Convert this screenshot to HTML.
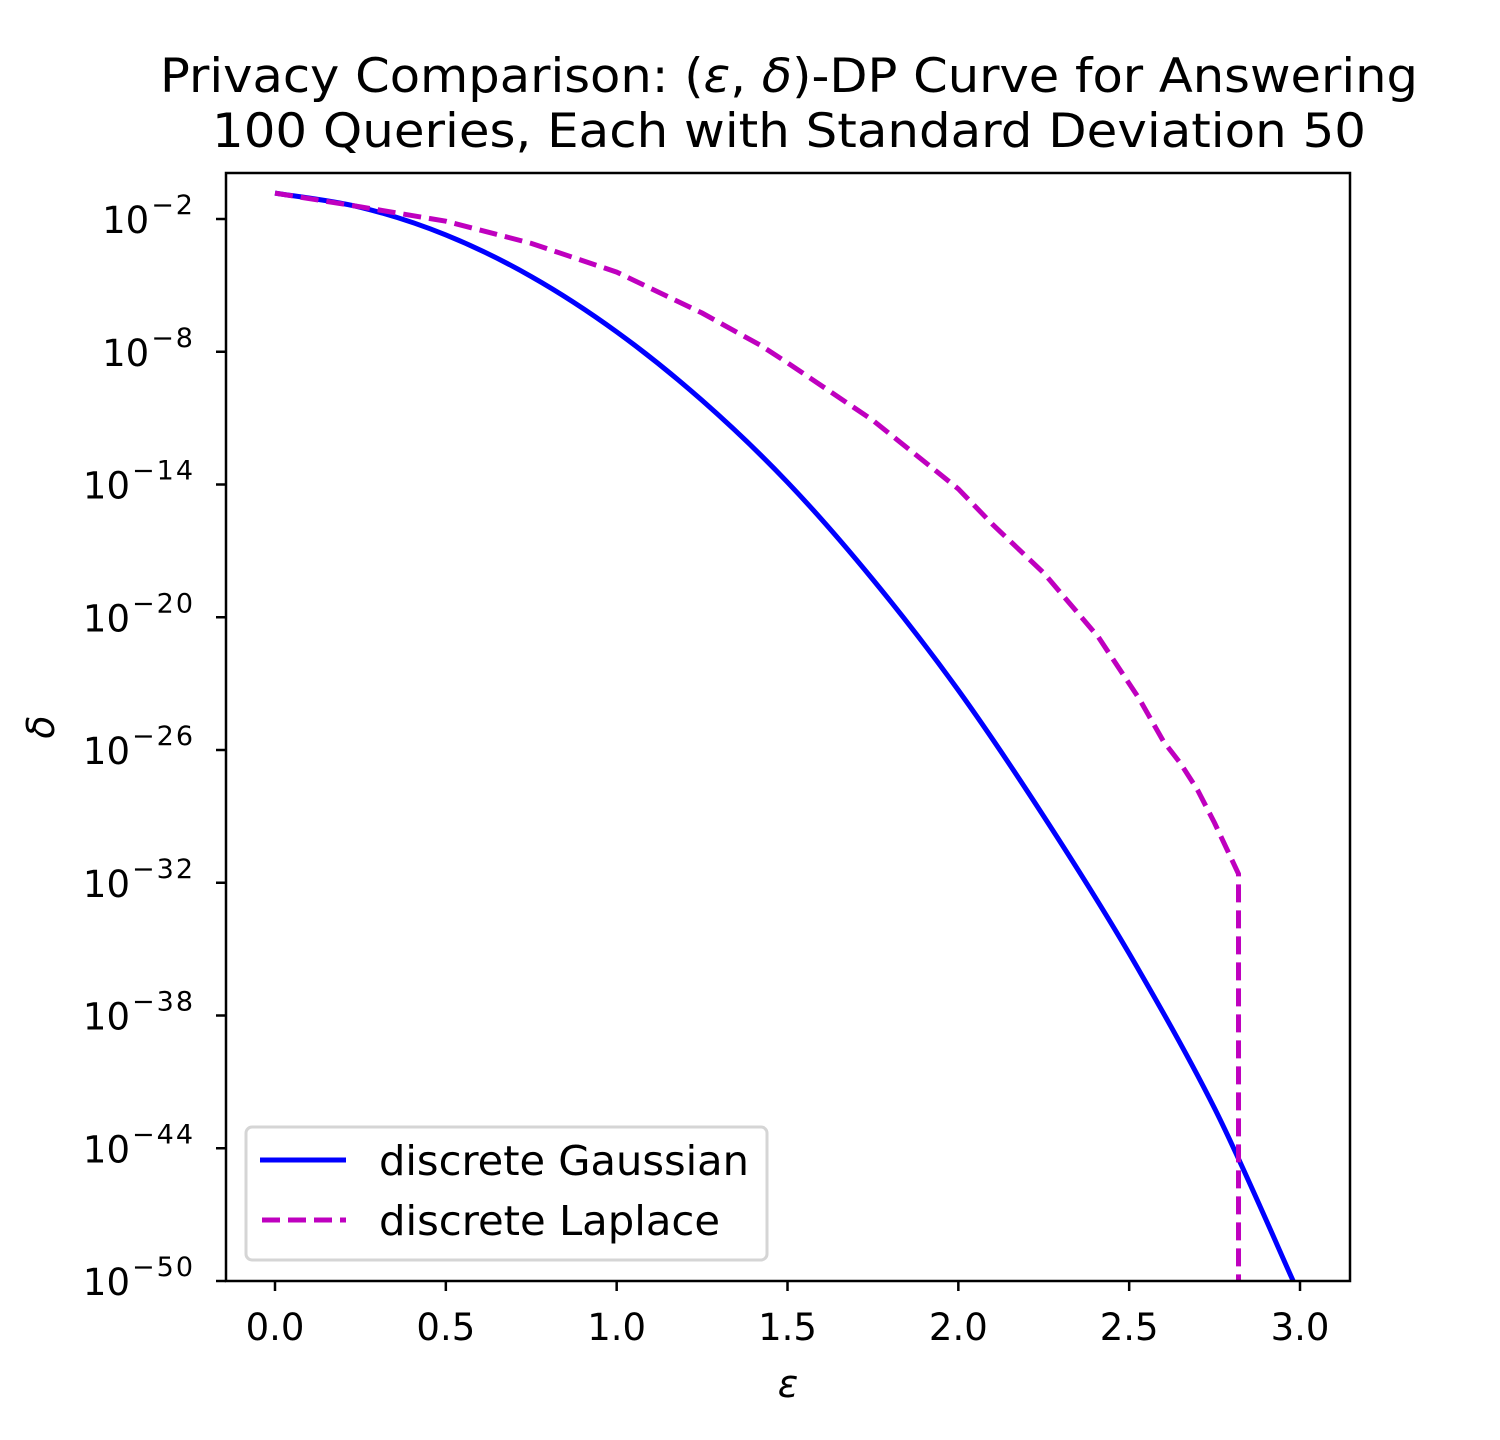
<!DOCTYPE html>
<html><head><meta charset="utf-8"><style>
html,body{margin:0;padding:0;background:#fff;width:1500px;height:1440px;overflow:hidden}
svg{font-family:"DejaVu Sans","Liberation Sans",sans-serif}
</style></head><body>
<svg id="chart" width="1500" height="1440" xmlns="http://www.w3.org/2000/svg">
<rect width="1500" height="1440" fill="#fff"/>
<text x="789" y="92" font-size="47" text-anchor="middle" textLength="1258" lengthAdjust="spacingAndGlyphs">Privacy Comparison: (<tspan font-style="italic">ε</tspan>, <tspan font-style="italic">δ</tspan>)-DP Curve for Answering</text>
<text x="789" y="147" font-size="47" text-anchor="middle" textLength="1154" lengthAdjust="spacingAndGlyphs">100 Queries, Each with Standard Deviation 50</text>
<g id="plot"></g>
<g id="axes"></g>
<text x="788" y="1397" font-size="38" font-style="italic" text-anchor="middle">ε</text>
<text transform="translate(54,727) rotate(-90)" font-size="38" font-style="italic" text-anchor="middle">δ</text>
<g>
<rect x="246" y="1127" width="521" height="133" rx="6" fill="#fff" stroke="#d5d5d5" stroke-width="3"/>
<line x1="260" y1="1160" x2="346" y2="1160" stroke="#0000ff" stroke-width="5"/>
<text x="379" y="1175" font-size="41" textLength="370" lengthAdjust="spacingAndGlyphs">discrete Gaussian</text>
<line x1="262" y1="1220" x2="346" y2="1220" stroke="#bf00bf" stroke-width="5" stroke-dasharray="18,8"/>
<text x="379" y="1235" font-size="41" textLength="341" lengthAdjust="spacingAndGlyphs">discrete Laplace</text>
</g>
</svg>
<script>
const xTicks=[0.0,0.5,1.0,1.5,2.0,2.5,3.0];
const yTicks=[-2,-8,-14,-20,-26,-32,-38,-44,-50];
const gaussEps=[0,0.25,0.5,0.75,1.0,1.25,1.5,1.75,2.0,2.25,2.5,2.75,2.98];
const gaussLogDelta=[-0.83,-1.47,-2.72,-4.6,-7.1,-10.2,-13.9,-18.3,-23.3,-29.0,-35.2,-42.2,-50];
const lapEps=[0,0.25,0.5,0.75,1.0,1.25,1.42,1.5,1.75,2.0,2.1,2.25,2.41,2.53,2.6,2.65,2.7,2.75,2.82,2.82];
const lapLogDelta=[-0.83,-1.45,-2.1,-3.1,-4.4,-6.25,-7.7,-8.5,-11.1,-14.2,-15.8,-18.0,-20.9,-23.7,-25.6,-26.6,-27.8,-29.3,-31.6,-50];
const L=226,R=1350,T=173,B=1281;
const xs=v=>275+v*341.67;
const ys=v=>1281-(v+50)*22.125;
const NS="http://www.w3.org/2000/svg";
function mk(tag,attrs,parent){const e=document.createElementNS(NS,tag);for(const k in attrs)e.setAttribute(k,attrs[k]);parent.appendChild(e);return e;}
function smooth(P){let d='M'+P[0][0]+','+P[0][1];for(let i=0;i<P.length-1;i++){const p0=P[i-1]||P[i],p1=P[i],p2=P[i+1],p3=P[i+2]||p2;d+=' C'+(p1[0]+(p2[0]-p0[0])/6)+','+(p1[1]+(p2[1]-p0[1])/6)+' '+(p2[0]-(p3[0]-p1[0])/6)+','+(p2[1]-(p3[1]-p1[1])/6)+' '+p2[0]+','+p2[1];}return d;}
const plot=document.getElementById('plot'),axes=document.getElementById('axes');
mk('clipPath',{id:'clip'},plot);
mk('rect',{x:L,y:T,width:R-L,height:B-T},document.getElementById('clip'));
const g=mk('path',{d:smooth(gaussEps.map((e,i)=>[xs(e),ys(gaussLogDelta[i])])),fill:'none',stroke:'#0000ff','stroke-width':5,'clip-path':'url(#clip)'},plot);


const l=mk('polyline',{points:lapEps.map((e,i)=>xs(e)+','+ys(lapLogDelta[i])).join(' '),fill:'none',stroke:'#bf00bf','stroke-width':5,'stroke-dasharray':'18,8','clip-path':'url(#clip)'},plot);


const fr=mk('rect',{x:L,y:T,width:R-L,height:B-T,fill:'none',stroke:'#000','stroke-width':2.5},axes);


xTicks.forEach(v=>{
 const x=xs(v);
 mk('line',{x1:x,y1:B,x2:x,y2:B+10,stroke:'#000','stroke-width':2.5},axes);
 const t=mk('text',{x:x,y:B+59,'font-size':37,'text-anchor':'middle'},axes);
 t.textContent=v.toFixed(1);
 
 
});
yTicks.forEach(v=>{
 const y=ys(v);
 mk('line',{x1:L-10,y1:y,x2:L,y2:y,stroke:'#000','stroke-width':2.5},axes);
 const t=mk('text',{x:195,y:y+14,'font-size':37,'text-anchor':'end'},axes);
 const a=mk('tspan',{},t);a.textContent='10';
 const b=mk('tspan',{dx:2,dy:-19,'font-size':27,'letter-spacing':2},t);b.textContent='−'+Math.abs(v);
 
 
});
</script>
</body></html>
